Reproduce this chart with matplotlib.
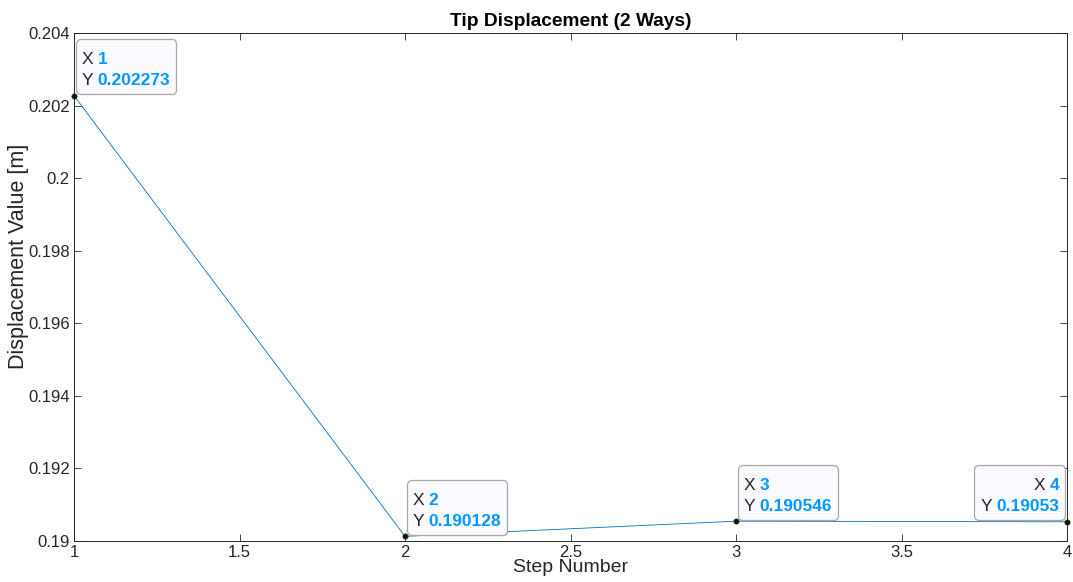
import matplotlib
matplotlib.use("Agg")
import matplotlib.pyplot as plt
from matplotlib.offsetbox import TextArea, HPacker, VPacker, AnnotationBbox, DrawingArea

steps = [1, 2, 3, 4]
displacement = [0.202273, 0.190128, 0.190546, 0.19053]
x_labels = ["1", "2", "3", "4"]
y_labels = ["0.202273", "0.190128", "0.190546", "0.19053"]

plt.rcParams['font.family'] = ['Liberation Sans', 'DejaVu Sans']

fig = plt.figure(figsize=(10.73, 5.82), dpi=100)
ax = fig.add_axes([74/1073, 1-541/582, (1067-74)/1073, (541-33)/582])

ax.plot(steps, displacement, color='#0072BD', lw=0.6, zorder=2)
ax.plot(steps, displacement, 'o', ms=3.8, color='#111111', mec='#333300', mew=0.5,
        zorder=5, clip_on=False)

ax.set_xlim(1, 4)
ax.set_ylim(0.19, 0.204)
ax.set_xticks([1, 1.5, 2, 2.5, 3, 3.5, 4])
ax.set_xticklabels(["1", "1.5", "2", "2.5", "3", "3.5", "4"])
ax.set_yticks([0.19, 0.192, 0.194, 0.196, 0.198, 0.2, 0.202, 0.204])
ax.set_yticklabels(["0.19", "0.192", "0.194", "0.196", "0.198", "0.2", "0.202", "0.204"])
ax.tick_params(direction='in', top=True, right=True, labelsize=12,
               colors='#262626', length=5, width=0.6, pad=3)
for s in ax.spines.values():
    s.set_color('#262626')
    s.set_linewidth(0.7)

ax.set_title("Tip Displacement (2 Ways)", fontsize=13.8, fontweight='bold',
             color='#000000', pad=5)
ax.set_xlabel("Step Number", fontsize=14, color='#262626', labelpad=-1)
ax.set_ylabel("Displacement Value [m]", fontsize=15.5, color='#262626')
ax.yaxis.set_label_coords(-45/993, (541-256)/508)

lab_c = '#262626'
val_c = '#0099FF'
fs = 12.5
px2pt = 72 / 100
for i, (xv, yv) in enumerate(zip(steps, displacement)):
    rowx = HPacker(children=[TextArea("X", textprops=dict(color=lab_c, fontsize=fs)),
                             TextArea(x_labels[i], textprops=dict(color=val_c, fontsize=fs, fontweight='bold'))],
                   align='baseline', pad=0, sep=3)
    rowy = HPacker(children=[TextArea("Y", textprops=dict(color=lab_c, fontsize=fs)),
                             TextArea(y_labels[i], textprops=dict(color=val_c, fontsize=fs, fontweight='bold'))],
                   align='baseline', pad=0, sep=3)
    right = (i == 3)
    inner = VPacker(children=[rowx, rowy], align='right' if right else 'left', pad=0, sep=4.3)
    outer = VPacker(children=[DrawingArea(1, 5), inner], align='right' if right else 'left',
                    pad=4.3, sep=0)
    ab = AnnotationBbox(outer, (xv, yv), xycoords='data',
                        xybox=((-2 if right else 2) * px2pt, 1.5 * px2pt),
                        boxcoords='offset points',
                        box_alignment=(1, 0) if right else (0, 0),
                        bboxprops=dict(boxstyle='round,pad=0,rounding_size=0.35',
                                       facecolor='#FAFAFF', edgecolor='#A8A8A8', lw=0.9),
                        frameon=True, annotation_clip=False, zorder=4)
    ax.add_artist(ab)

fig.savefig("out.png", dpi=100)
